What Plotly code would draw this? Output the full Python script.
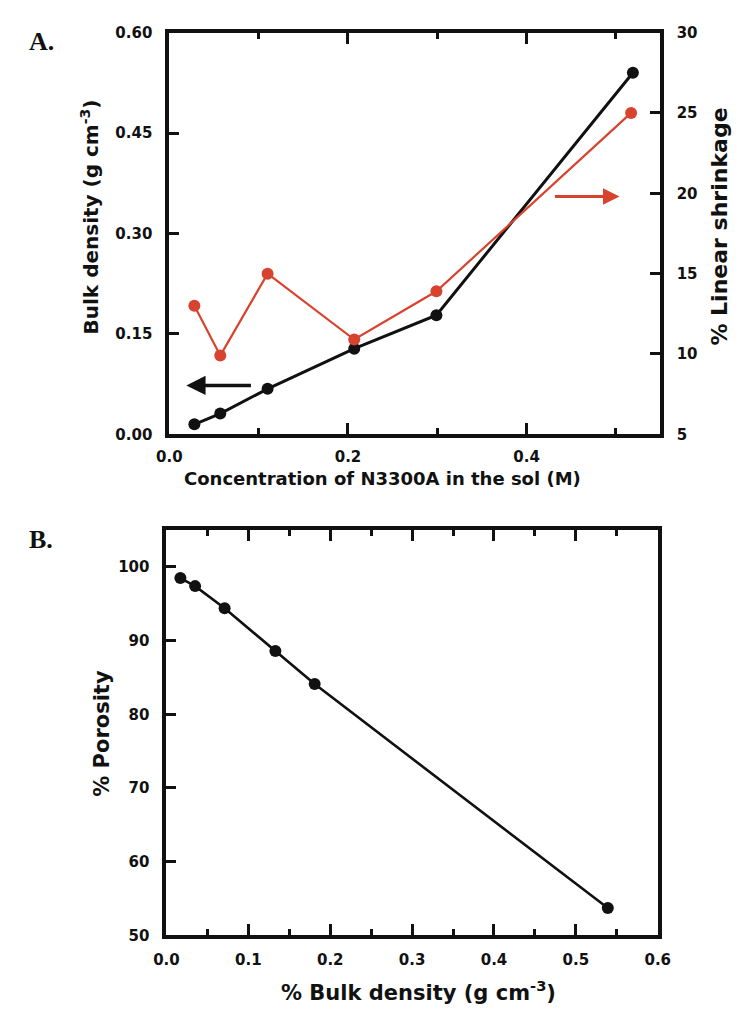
import plotly.graph_objects as go

W, H = 747, 1019

# ---- Panel A data ----
conc = [0.028, 0.057, 0.110, 0.207, 0.299, 0.519]
bulk_density = [0.015, 0.031, 0.068, 0.128, 0.178, 0.540]
conc_red = [0.028, 0.057, 0.110, 0.207, 0.299, 0.517]
linear_shrinkage = [13.0, 9.9, 15.0, 10.9, 13.9, 25.0]

# ---- Panel B data ----
bulk_b = [0.017, 0.035, 0.071, 0.133, 0.181, 0.539]
porosity = [98.5, 97.4, 94.4, 88.6, 84.1, 53.7]

RED = "#d8432f"
BLACK = "#111111"
FONT = "DejaVu Sans"

def px(x):
    return x / W

def py(y):
    return 1 - y / H

fig = go.Figure()

fig.add_trace(go.Scatter(x=conc, y=bulk_density, mode="lines+markers",
                         line=dict(color=BLACK, width=3),
                         marker=dict(color=BLACK, size=12),
                         xaxis="x", yaxis="y", showlegend=False))
fig.add_trace(go.Scatter(x=conc_red, y=linear_shrinkage, mode="lines+markers",
                         line=dict(color=RED, width=2.2),
                         marker=dict(color=RED, size=12),
                         xaxis="x", yaxis="y2", showlegend=False))
fig.add_trace(go.Scatter(x=bulk_b, y=porosity, mode="lines+markers",
                         line=dict(color=BLACK, width=2.6),
                         marker=dict(color=BLACK, size=12),
                         xaxis="x2", yaxis="y3", showlegend=False))

tickfont = dict(family=FONT, size=15, color=BLACK, weight="bold")
axline = dict(showline=True, linecolor=BLACK, linewidth=4, showgrid=False,
              zeroline=False, ticks="inside", tickcolor=BLACK, tickwidth=3,
              tickfont=tickfont)

fig.update_layout(
    width=W, height=H,
    margin=dict(l=0, r=0, t=0, b=0),
    paper_bgcolor="white", plot_bgcolor="white",
    font=dict(family=FONT, color=BLACK),
    xaxis=dict(domain=[px(162), px(670)], range=[0, 0.549], anchor="y",
               tickvals=[0.0, 0.2, 0.4], ticktext=["0.0", "0.2", "0.4"],
               ticklen=11, mirror="ticks", ticklabelstandoff=6,
               minor=dict(ticks="inside", tickvals=[0.1, 0.3, 0.5], ticklen=6,
                          tickwidth=3, tickcolor=BLACK),
               **axline),
    yaxis=dict(domain=[py(433), py(24)], range=[0, 0.6], anchor="x",
               tickvals=[0, 0.15, 0.30, 0.45, 0.60], tickformat=".2f",
               ticklen=10, mirror=False, ticklabelstandoff=10, **axline),
    yaxis2=dict(overlaying="y", side="right", range=[5, 30], anchor="x",
                tickvals=[5, 10, 15, 20, 25, 30], ticklen=10,
                ticklabelstandoff=10, **axline),
    xaxis2=dict(domain=[px(159), px(668)], range=[0, 0.6], anchor="y3",
                tickvals=[0, 0.1, 0.2, 0.3, 0.4, 0.5, 0.6], tickformat=".1f",
                ticklen=11, mirror="ticks", ticklabelstandoff=8,
                minor=dict(ticks="inside", dtick=0.05, ticklen=6, tickwidth=3,
                           tickcolor=BLACK),
                **axline),
    yaxis3=dict(domain=[py(943), py(530.5)], range=[50, 105], anchor="x2",
                tickvals=[50, 60, 70, 80, 90, 100], ticklen=10, mirror=True,
                ticklabelstandoff=10, **axline),
)

ann = []
def label(text, x, y, size, angle=0, family=FONT, yanchor="middle"):
    ann.append(dict(text=text, x=px(x), y=py(y), xref="paper", yref="paper",
                    showarrow=False, textangle=angle, xanchor="center",
                    yanchor=yanchor,
                    font=dict(family=family, size=size, weight="bold", color=BLACK)))

# axis titles
label("Concentration of N3300A in the sol (M)", 383, 478, 18)
label("Bulk density (g cm<sup>-3</sup>)", 80, 212, 20, angle=-90)
label("% Linear shrinkage", 732, 222, 22, angle=-90)
label("% Bulk density (g cm<sup>-3</sup>)", 420, 1016, 21, yanchor="bottom")
label("% Porosity", 92, 737, 21, angle=-90)
# panel labels
label("A.", 30, 33, 26, family="Liberation Serif")
label("B.", 29, 540, 26, family="Liberation Serif")

# arrows
ann.append(dict(text="", x=0.019, y=0.073, ax=0.093, ay=0.073, xref="x", yref="y",
                axref="x", ayref="y", showarrow=True, arrowhead=2, arrowsize=1.1,
                arrowwidth=3.5, arrowcolor=BLACK, standoff=0, startstandoff=0))
ann.append(dict(text="", x=0.504, y=19.8, ax=0.430, ay=19.8, xref="x", yref="y2",
                axref="x", ayref="y2", showarrow=True, arrowhead=2, arrowsize=1.1,
                arrowwidth=3, arrowcolor=RED, standoff=0, startstandoff=0))

fig.update_layout(annotations=ann)

fig.write_html("out.html")
